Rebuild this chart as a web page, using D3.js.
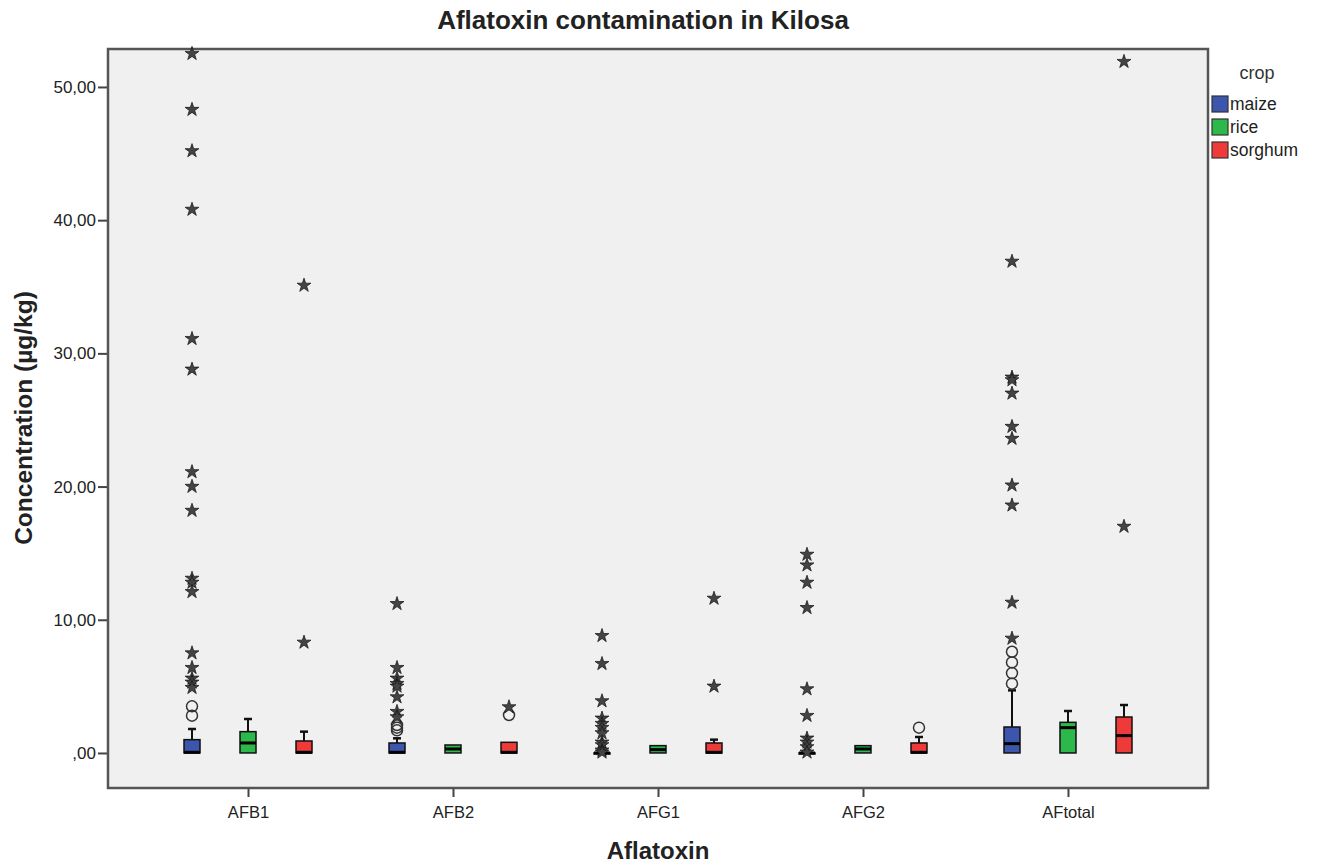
<!DOCTYPE html>
<html><head><meta charset="utf-8">
<script src="https://cdn.jsdelivr.net/npm/d3@7"></script>
<style>body{margin:0;background:#fff}svg{display:block}text{font-family:"Liberation Sans",Arial,sans-serif}</style>
</head><body><svg id="c" width="1320" height="865"></svg>
<script>
const categories = ["AFB1","AFB2","AFG1","AFG2","AFtotal"];
const crops = ["maize","rice","sorghum"];
const colors = ["#3D56AD","#2DB84B","#EF3A3A"];
const yTicks = [0,10,20,30,40,50];
const yTickLabels = [",00","10,00","20,00","30,00","40,00","50,00"];
// box stats per crop, per category: [q1, median, q3, whiskerHigh]
const maizeBox   = [[0,0.05,1.0,1.8],[0,0.05,0.75,1.1],[0,0,0,0],[0,0,0,0],[0,0.7,1.95,4.7]];
const riceBox    = [[0,0.75,1.6,2.55],[0,0.3,0.6,0.6],[0,0.25,0.55,0.55],[0,0.3,0.55,0.55],[0,1.9,2.3,3.15]];
const sorghumBox = [[0,0.05,0.9,1.6],[0,0.05,0.8,0.8],[0,0.05,0.75,1.0],[0,0.05,0.75,1.2],[0,1.3,2.7,3.6]];
// outliers (circles) and extremes (stars)
const maizeCircles = [[2.8,3.5],[1.7,1.9,2.1],[],[],[5.2,6.0,6.8,7.6]];
const maizeStars = [
  [52.5,48.3,45.2,40.8,31.1,28.8,21.1,20.0,18.2,13.1,12.8,12.1,7.5,6.4,5.6,5.3,4.9],
  [11.2,6.4,5.6,5.2,5.0,4.2,3.1,2.7],
  [8.8,6.7,3.9,2.6,2.2,1.9,1.5,0.8,0.6,0.2,0.05],
  [14.9,14.1,12.8,10.9,4.8,2.8,1.1,0.8,0.45,0.05],
  [36.9,28.2,28.0,27.0,24.5,23.6,20.1,18.6,11.3,8.6]
];
const riceCircles = [[],[],[],[],[]];
const riceStars = [[],[],[],[],[]];
const sorghumCircles = [[],[2.85],[],[1.9],[]];
const sorghumStars = [[35.1,8.3],[3.45],[11.6,5.0],[],[51.9,17.0]];

const boxes = [maizeBox, riceBox, sorghumBox];
const circles = [maizeCircles, riceCircles, sorghumCircles];
const stars = [maizeStars, riceStars, sorghumStars];

const svg = d3.select("#c");
const L=108,R=1208,T=49,B=788;
const x = d3.scalePoint().domain(categories).range([L,R]).padding(0.683);
const xi = d3.scalePoint().domain(crops).range([-56,56]);
const y = d3.scaleLinear().domain([-2.63,52.85]).range([B,T]);

svg.append("rect").attr("x",L).attr("y",T).attr("width",R-L).attr("height",B-T).attr("fill","#F0F0F0");

// y axis
const ya = svg.append("g").attr("transform",`translate(${L},0)`)
  .call(d3.axisLeft(y).tickValues(yTicks).tickFormat((d,i)=>yTickLabels[i]).tickSize(10).tickPadding(2));
ya.select(".domain").remove();
ya.selectAll("line").attr("stroke","#444").attr("stroke-width",2);
ya.selectAll("text").attr("font-size",17).attr("fill","#222");
// x axis
const xa = svg.append("g").attr("transform",`translate(0,${B})`)
  .call(d3.axisBottom(x).tickSize(9).tickPadding(9));
xa.select(".domain").remove();
xa.selectAll("line").attr("stroke","#444").attr("stroke-width",2);
xa.selectAll("text").attr("font-size",16.5).attr("fill","#222");

// frame
svg.append("rect").attr("x",L).attr("y",T).attr("width",R-L).attr("height",B-T)
  .attr("fill","none").attr("stroke","#555").attr("stroke-width",2.5);

const bw = 16;
crops.forEach((c,ci)=>{
  categories.forEach((cat,k)=>{
    const cx = x(cat)+xi(c);
    const [q1,med,q3,wh] = boxes[ci][k];
    const g = svg.append("g");
    if (wh>q3){
      g.append("line").attr("x1",cx).attr("x2",cx).attr("y1",y(q3)).attr("y2",y(wh)).attr("stroke","#111").attr("stroke-width",2);
      g.append("line").attr("x1",cx-4).attr("x2",cx+4).attr("y1",y(wh)).attr("y2",y(wh)).attr("stroke","#111").attr("stroke-width",2.5);
    }
    g.append("rect").attr("x",cx-bw/2).attr("y",y(q3)).attr("width",bw).attr("height",Math.max(y(q1)-y(q3),1))
      .attr("fill",colors[ci]).attr("stroke","#111").attr("stroke-width",1.5);
    g.append("line").attr("x1",cx-bw/2).attr("x2",cx+bw/2).attr("y1",y(med)).attr("y2",y(med)).attr("stroke","#000").attr("stroke-width",3);
    circles[ci][k].forEach(v=>{
      svg.append("circle").attr("cx",cx).attr("cy",y(v)).attr("r",5.5).attr("fill","none").attr("stroke","#333").attr("stroke-width",1.5);
    });
    stars[ci][k].forEach(v=>{
      svg.append("path").attr("d",d3.symbol(d3.symbolStar,60)()).attr("transform",`translate(${cx},${y(v)})`)
        .attr("fill","#444").attr("stroke","#111").attr("stroke-width",0.7);
    });
  });
});

// titles
svg.append("text").attr("x",643).attr("y",29).attr("text-anchor","middle").attr("font-size",26).attr("font-weight","bold").attr("fill","#222").text("Aflatoxin contamination in Kilosa");
svg.append("text").attr("x",658).attr("y",859).attr("text-anchor","middle").attr("font-size",24).attr("font-weight","bold").attr("fill","#222").text("Aflatoxin");
svg.append("text").attr("transform","translate(32,418) rotate(-90)").attr("text-anchor","middle").attr("font-size",24.5).attr("font-weight","bold").attr("fill","#222").text("Concentration (µg/kg)");

// legend
svg.append("text").attr("x",1257).attr("y",79).attr("text-anchor","middle").attr("font-size",18).attr("fill","#333").text("crop");
crops.forEach((c,i)=>{
  const yy = 96+i*23;
  svg.append("rect").attr("x",1212).attr("y",yy).attr("width",16).attr("height",16).attr("fill",colors[i]).attr("stroke","#333").attr("stroke-width",1.2);
  svg.append("text").attr("x",1230).attr("y",yy+14).attr("font-size",17.5).attr("fill","#222").text(c);
});
</script></body></html>
